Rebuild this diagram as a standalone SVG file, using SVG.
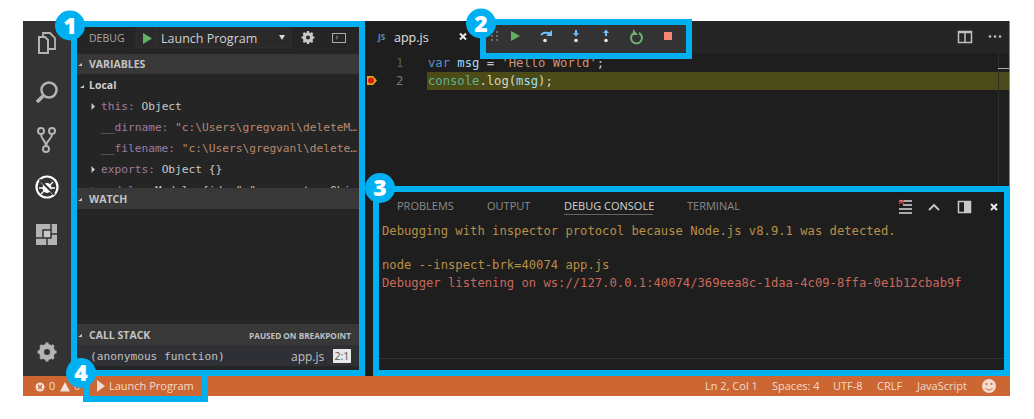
<svg xmlns="http://www.w3.org/2000/svg" width="1034" height="419" viewBox="0 0 1034 419">
<style>
.ui{font-family:"Open Sans","Noto Sans","Liberation Sans",sans-serif}
.m{font-family:"DejaVu Sans Mono","Liberation Mono",monospace;font-size:12.200px}
.ms{font-family:"DejaVu Sans Mono","Liberation Mono",monospace;font-size:11.200px}
.hd{font-family:"Open Sans","Noto Sans","Liberation Sans",sans-serif;font-size:10.500px;font-weight:700;fill:#c4c4c4}
.key{fill:#a07ba0}.val{fill:#c8c8c8}.str{fill:#b98a6e}
.frame{fill:none;stroke:#00b0f0;stroke-width:6}
.badge{fill:#00b0f0}
.num{font-family:"Open Sans","Liberation Sans",sans-serif;font-size:23px;font-weight:800;fill:#fff;text-anchor:middle}
.ico{fill:none;stroke:#b4b4b4;stroke-width:2}
.st{font-family:"Open Sans","Noto Sans","Liberation Sans",sans-serif;font-size:11px;fill:#f2dccf}
.tab{font-family:"Open Sans","Noto Sans","Liberation Sans",sans-serif;font-size:11px;fill:#8b8b8b}
</style>
<defs>
<clipPath id="side"><rect x="77" y="74" width="283" height="114"/></clipPath>
</defs>
<rect width="1034" height="419" fill="#fff"/>

<g id="window">
<rect x="23" y="21" width="987" height="375" fill="#1e1e1e"/>
<rect x="23" y="21" width="48" height="355" fill="#333333"/>
<rect x="71" y="21" width="294" height="355" fill="#252526"/>
<rect x="365" y="21" width="645" height="32" fill="#252526"/>
<rect x="365" y="21" width="117" height="32" fill="#1e1e1e"/>
<rect x="23" y="376" width="987" height="20" fill="#cc6633"/>
<rect x="1009" y="21" width="1" height="355" fill="#8a8a8a"/>
</g>

<g id="activity-bar">
<g class="ico">
<path d="M43 37v-4h7l5 5v11h-7" stroke-width="1.800"/>
<path d="M39 37h6l3 3v13h-9z" stroke-width="2"/>
<circle cx="49" cy="90" r="7.500" stroke-width="2.500"/>
<path d="M43 96l-6 6" stroke-width="3.500"/>
<circle cx="41" cy="131" r="3"/><circle cx="52" cy="131" r="3"/><circle cx="46" cy="149" r="3"/>
<path d="M41 134c0 6 5 6 5 12M52 134c0 6-6 6-6 12"/>
</g>
<circle cx="47" cy="187" r="10.500" fill="none" stroke="#fff" stroke-width="2.200"/>
<ellipse cx="47" cy="188" rx="4.500" ry="5" fill="#fff"/>
<path d="M41 182l3 3M53 182l-3 3M39 188h5M50 188h5M41 194l3-3M53 194l-3-3" stroke="#fff" stroke-width="1.300"/>
<path d="M39.500 179.500l15 15" stroke="#333" stroke-width="2"/>
<path d="M36 224h21v21h-21z" fill="#b4b4b4"/>
<path d="M43 230h8v8h-8z" fill="#c8c8c8" stroke="#333" stroke-width="1.500"/>
<path d="M51 224v6M36 238h7M47 238v7M51 234h6" stroke="#333" stroke-width="1.500"/>
<g transform="translate(47 352)">
<circle r="6" fill="none" stroke="#b4b4b4" stroke-width="4"/>
<path d="M0-9.500V9.500M-9.500 0H9.500M-6.700-6.700L6.700 6.700M-6.700 6.700L6.700-6.700" stroke="#b4b4b4" stroke-width="3"/>
<circle r="3" fill="#333"/>
</g>
</g>

<g id="debug-sidebar">
<text x="89" y="42" class="ui" font-size="10.500" fill="#a8a8a8">DEBUG</text>
<rect x="136" y="28" width="155" height="20" fill="#2a2a2b" stroke="#333" stroke-width="1"/>
<path d="M143 33l9 5.500-9 5.500z" fill="#63b263"/>
<line x1="156" y1="28" x2="156" y2="48" stroke="#333"/>
<text x="161" y="43" class="ui" font-size="12.500" fill="#d0d0d0">Launch Program</text>
<path d="M279 35h6l-3 5z" fill="#d8d8d8"/>
<g transform="translate(308 37.500)">
<circle r="4" fill="none" stroke="#c8c8c8" stroke-width="2.500"/>
<path d="M0-6.500V6.500M-6.500 0H6.500M-4.600-4.600L4.600 4.600M-4.600 4.600L4.600-4.600" stroke="#c8c8c8" stroke-width="2.200"/>
<circle r="2" fill="#252526"/>
</g>
<rect x="332.500" y="33.500" width="13" height="9" fill="none" stroke="#aaa"/>
<path d="M336 36l2 1.500-2 1.500" fill="none" stroke="#aaa" stroke-width=".8"/>

<rect x="77" y="54" width="283" height="20" fill="#383838"/>
<path d="M78 66l4-3v3z" fill="#c8c8c8"/>
<text x="89" y="68" class="hd">VARIABLES</text>
<path d="M80 88l4-3v3z" fill="#c8c8c8"/>
<text x="89" y="89" class="ui" font-size="10.500" font-weight="700" fill="#d0d0d0">Local</text>

<g clip-path="url(#side)">
<path d="M91.500 103l3.500 3.500-3.500 3.500z" fill="#c8c8c8"/>
<text x="101" y="110" class="ms"><tspan class="key">this: </tspan><tspan class="val">Object</tspan></text>
<text x="101" y="131" class="ms"><tspan class="key">__dirname: </tspan><tspan class="str">"c:\Users\gregvanl\deleteM…</tspan></text>
<text x="101" y="152" class="ms"><tspan class="key">__filename: </tspan><tspan class="str">"c:\Users\gregvanl\delete…</tspan></text>
<path d="M91.500 166l3.500 3.500-3.500 3.500z" fill="#c8c8c8"/>
<text x="101" y="173" class="ms"><tspan class="key">exports: </tspan><tspan class="val">Object {}</tspan></text>
<path d="M91.500 187l3.500 3.500-3.500 3.500z" fill="#c8c8c8"/>
<text x="101" y="194" class="ms"><tspan class="key">module: </tspan><tspan class="val">Module {id: ".", exports: Obj</tspan></text>
</g>

<rect x="77" y="188" width="283" height="21" fill="#383838"/>
<path d="M78 201l4-3v3z" fill="#c8c8c8"/>
<text x="89" y="203" class="hd">WATCH</text>

<rect x="77" y="324" width="283" height="21" fill="#383838"/>
<path d="M78 337l4-3v3z" fill="#c8c8c8"/>
<text x="89" y="339" class="hd">CALL STACK</text>
<text x="351" y="339" class="ui" font-size="8.200" font-weight="700" fill="#c0c0c0" text-anchor="end">PAUSED ON BREAKPOINT</text>
<rect x="77" y="345" width="283" height="21" fill="#2f3036"/>
<text x="90" y="360" class="ms" fill="#c0c0c0">(anonymous function)</text>
<text x="291" y="361" class="ui" font-size="12" fill="#c0c0c0">app.js</text>
<rect x="333" y="349" width="18" height="14" fill="#e8e8e8"/>
<text x="342" y="360" class="ui" font-size="10.500" fill="#555" text-anchor="middle">2:1</text>
</g>

<g id="editor">
<text x="378" y="40" class="ui" font-size="8" font-weight="700" fill="#5b8fc4">JS</text>
<text x="394" y="42" class="ui" font-size="12.500" fill="#e0e0e0">app.js</text>
<path d="M460 33.500l6 6M466 33.500l-6 6" stroke="#e8e8e8" stroke-width="2"/>
<rect x="958.500" y="31.500" width="13" height="11" fill="none" stroke="#c0c0c0" stroke-width="1.500"/>
<path d="M958 32.500h14M965 32v11" stroke="#c0c0c0" stroke-width="1.500"/>
<circle cx="990" cy="36.500" r="1.300" fill="#c0c0c0"/><circle cx="995" cy="36.500" r="1.300" fill="#c0c0c0"/><circle cx="1000" cy="36.500" r="1.300" fill="#c0c0c0"/>

<rect x="427" y="72" width="582" height="18" fill="#4b4b18"/>
<rect x="998" y="53" width="1" height="133" fill="#2d2d2d"/>
<rect x="998" y="68" width="11" height="1" fill="#aaa"/>

<text x="396" y="67" class="m" fill="#5a5a5a">1</text>
<text x="396" y="85" class="m" fill="#7a7a7a">2</text>
<path d="M367 76h6l4 4.500-4 4.500h-6z" fill="#e8a81c"/>
<circle cx="371" cy="80.500" r="3" fill="#d81818"/>
<text x="428" y="67" class="m" xml:space="preserve"><tspan fill="#5c8fc8">var</tspan><tspan fill="#9cdcfe"> msg</tspan><tspan fill="#c8c8c8"> = </tspan><tspan fill="#ce9178">'Hello World'</tspan><tspan fill="#c8c8c8">;</tspan></text>
<text x="428" y="85" class="m"><tspan fill="#60b090">console</tspan><tspan fill="#d8d8c0">.log(</tspan><tspan fill="#9cdcfe">msg</tspan><tspan fill="#d8d8c0">);</tspan></text>
</g>

<g id="debug-toolbar">
<rect x="486" y="25" width="200" height="28" fill="#333333"/>
<g fill="#8a8a8a"><circle cx="492" cy="32" r=".9"/><circle cx="497" cy="32" r=".9"/><circle cx="492" cy="36" r=".9"/><circle cx="497" cy="36" r=".9"/><circle cx="492" cy="40" r=".9"/><circle cx="497" cy="40" r=".9"/></g>
<path d="M511 31l9 5-9 5z" fill="#63b263"/>
<path d="M541 35a6 5 0 0 1 9-1" fill="none" stroke="#75beff" stroke-width="2"/><path d="M552 30v6h-6z" fill="#75beff"/><circle cx="545" cy="40.500" r="1.800" fill="#e8e8e8"/>
<path d="M576 30v5" stroke="#75beff" stroke-width="2"/><path d="M573 33h6l-3 3.500z" fill="#75beff"/><circle cx="576" cy="40.500" r="1.800" fill="#e8e8e8"/>
<path d="M606 36v-4" stroke="#75beff" stroke-width="2"/><path d="M603 33h6l-3-3.500z" fill="#75beff"/><circle cx="606" cy="40.500" r="1.800" fill="#e8e8e8"/>
<path d="M634 33a5.500 5.500 0 1 0 5 0" fill="none" stroke="#70b070" stroke-width="2"/><path d="M633 29v6h5z" fill="#70b070"/>
<rect x="664" y="32" width="8" height="8" fill="#f48771"/>
</g>

<g id="panel">
<text x="397" y="210" class="tab">PROBLEMS</text>
<text x="487" y="210" class="tab">OUTPUT</text>
<text x="564" y="210" class="tab" style="fill:#d4d4d4">DEBUG CONSOLE</text>
<rect x="564" y="214" width="89" height="1" fill="#666"/>
<text x="687" y="210" class="tab">TERMINAL</text>
<path d="M899 201h13M903 205h9M899 209h13M899 213h13" stroke="#d8d8d8" stroke-width="1.500"/>
<path d="M899 200l5 4M904 200l-5 4" stroke="#d04040" stroke-width="1.200"/>
<path d="M929 210l5-5 5 5" fill="none" stroke="#c8c8c8" stroke-width="1.800"/>
<rect x="958.500" y="201.500" width="12" height="11" fill="#1e1e1e" stroke="#c8c8c8" stroke-width="1.500"/>
<rect x="964" y="201" width="7" height="12" fill="#c8c8c8"/>
<path d="M991 204l6 6M997 204l-6 6" stroke="#e8e8e8" stroke-width="2"/>
<text x="382" y="235" class="m" fill="#b89045">Debugging with inspector protocol because Node.js v8.9.1 was detected.</text>
<text x="382" y="269" class="m" fill="#b89045">node --inspect-brk=40074 app.js</text>
<text x="382" y="287" class="m" fill="#c8695c">Debugger listening on ws://127.0.0.1:40074/369eea8c-1daa-4c09-8ffa-0e1b12cbab9f</text>
<rect x="379" y="358" width="625" height="1" fill="#333"/>
</g>

<g id="status-bar">
<circle cx="40" cy="387" r="4.500" fill="#f0e0d8"/>
<path d="M38 385l4 4M42 385l-4 4" stroke="#cc6633" stroke-width="1.200"/>
<text x="49" y="390" class="st">0</text>
<path d="M65 382l5 9.500h-10z" fill="#f0e0d8"/>
<text x="74" y="390" class="st">0</text>
<path d="M97 380l8 6-8 6z" fill="#f2dccf"/>
<text x="109" y="390" class="st">Launch Program</text>
<text x="705" y="390" class="st">Ln 2, Col 1</text>
<text x="772" y="390" class="st">Spaces: 4</text>
<text x="833" y="390" class="st">UTF-8</text>
<text x="877" y="390" class="st">CRLF</text>
<text x="917" y="390" class="st">JavaScript</text>
<circle cx="989" cy="386" r="7" fill="#f2dccf"/>
<circle cx="986.500" cy="384" r="1" fill="#cc6633"/><circle cx="991.500" cy="384" r="1" fill="#cc6633"/>
<path d="M985.500 388a4 4 0 0 0 7 0" fill="none" stroke="#cc6633"/>
</g>

<g id="callouts">
<rect class="frame" x="74" y="24" width="288" height="349"/>
<rect class="frame" x="483" y="22" width="206" height="34"/>
<path class="frame" d="M376 376V189H1007V373H376"/>
<path class="frame" d="M86 373V399H205V373"/>
<g id="badge-1"><circle class="badge" cx="70" cy="25.500" r="15"/><text class="num" x="70" y="33.500">1</text></g>
<g id="badge-2"><circle class="badge" cx="481" cy="23.500" r="15"/><text class="num" x="481" y="31.500">2</text></g>
<g id="badge-3"><circle class="badge" cx="380" cy="188" r="15"/><text class="num" x="380" y="196">3</text></g>
<g id="badge-4"><circle class="badge" cx="81" cy="373" r="15"/><text class="num" x="81" y="381">4</text></g>
</g>
</svg>
